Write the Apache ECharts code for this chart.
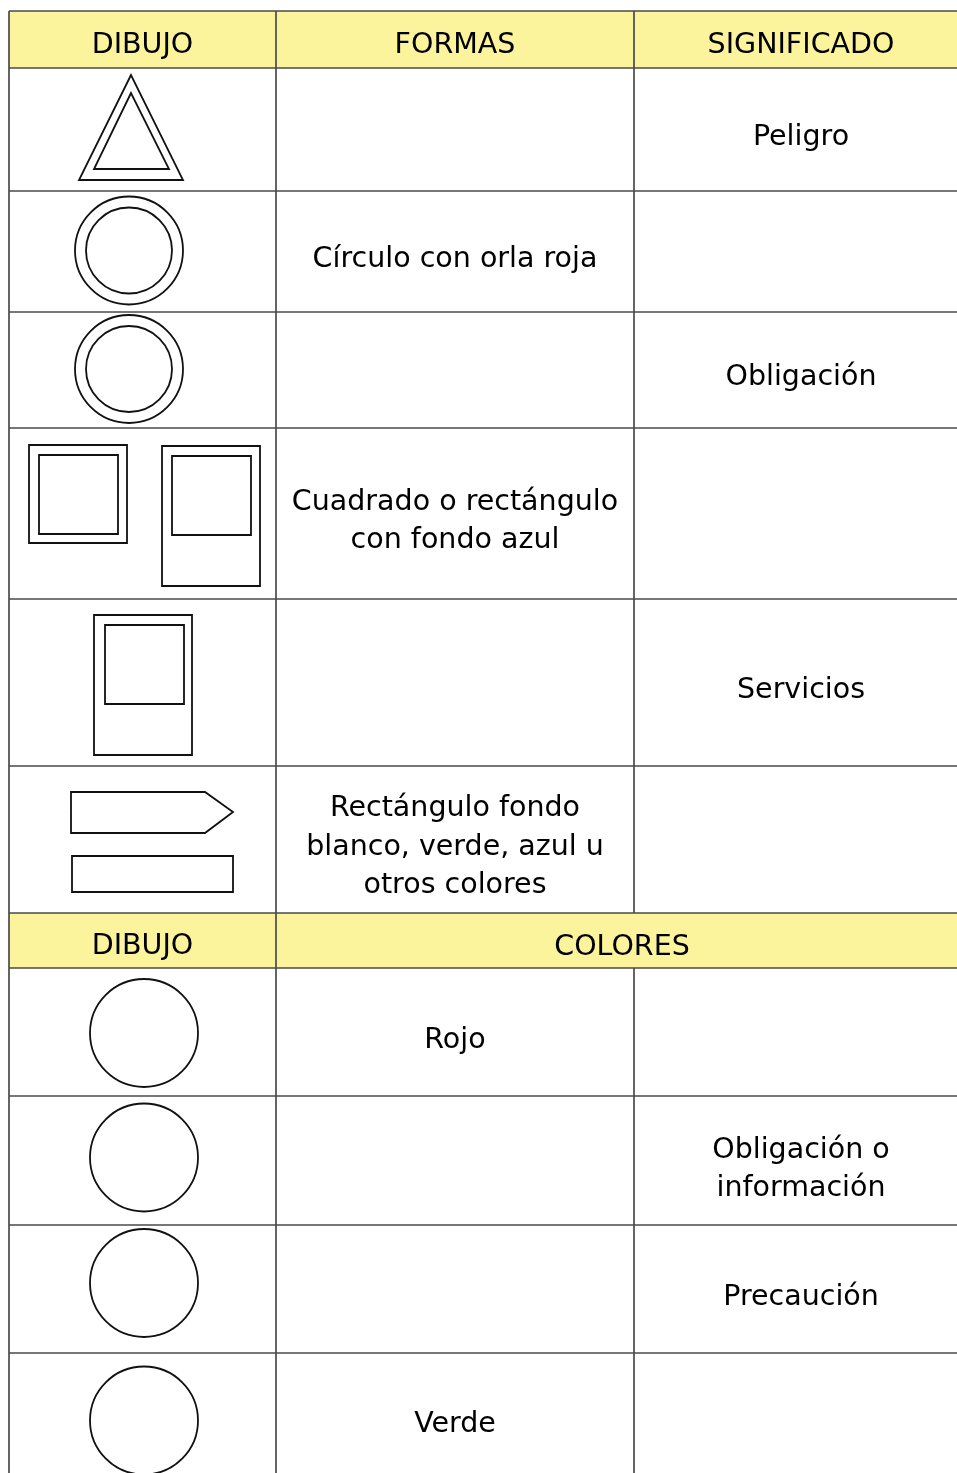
<!DOCTYPE html>
<html><head><meta charset="utf-8">
<script src="https://cdn.jsdelivr.net/npm/echarts@6/dist/echarts.min.js"></script>
<style>html,body{margin:0;padding:0;background:#fff}#c{width:957px;height:1473px}</style>
</head><body><div id="c"></div>
<script>
// ---- data ----
const headersFormas = ['DIBUJO', 'FORMAS', 'SIGNIFICADO'];
const headersColores = ['DIBUJO', 'COLORES'];
const dibujosFormas = ['triangle', 'ringCircle', 'ringCircle', 'squares', 'tallRect', 'arrowRect'];
const formas = ['', 'Círculo con orla roja', '', 'Cuadrado o rectángulo\ncon fondo azul', '', 'Rectángulo fondo\nblanco, verde, azul u\notros colores'];
const significadosFormas = ['Peligro', '', 'Obligación', '', 'Servicios', ''];
const dibujosColores = ['circle', 'circle', 'circle', 'circle'];
const colores = ['Rojo', '', '', 'Verde'];
const significadosColores = ['', 'Obligación o\ninformación', 'Precaución', ''];

// ---- layout ----
const colEdges = [9, 276, 634, 968];
const top1 = 11, head1H = 57;
const rowH1 = [123, 121, 116, 171, 167, 147];
const head2H = 55;
const rowH2 = [128, 129, 128, 125];
const circleShift2 = [1, -3, -6, 5];
const FONT = '"DejaVu Sans", sans-serif';
const FS = 28.5, LH = 38.5;
const BORDER = '#4a4a4a', HEAD = '#fbf49c', INK = '#111';

const chart = echarts.init(document.getElementById('c'), null, {renderer: 'canvas'});
const g = [];
const lines = [];
const texts = [];
const shapes = [];

function text(str, x, y) {
  if (!str) return;
  texts.push({type: 'text', z: 30, style: {text: str, x: x, y: y + 10, align: 'center', verticalAlign: 'middle',
    fontFamily: FONT, fontSize: FS, lineHeight: LH, fill: '#000'}});
}
const sLine = {stroke: INK, lineWidth: 1.8, fill: '#fff'};
function rect(x, y, w, h) { shapes.push({type: 'rect', z: 20, shape: {x, y, width: w, height: h}, style: Object.assign({}, sLine)}); }
function circ(cx, cy, r) { shapes.push({type: 'circle', z: 20, shape: {cx, cy, r}, style: Object.assign({}, sLine)}); }
function poly(pts) { shapes.push({type: 'polygon', z: 20, shape: {points: pts}, style: Object.assign({}, sLine)}); }

function drawShape(kind, x0, y0, h, shift) {
  const cy = y0 + h / 2;
  if (kind === 'triangle') {
    poly([[131, y0 + 7], [79, y0 + 112], [183, y0 + 112]]);
    poly([[131, y0 + 25], [94, y0 + 101], [169, y0 + 101]]);
  } else if (kind === 'ringCircle') {
    circ(129, cy - 1, 54);
    circ(129, cy - 1, 43);
  } else if (kind === 'squares') {
    rect(29, y0 + 17, 98, 98); rect(39, y0 + 27, 79, 79);
    rect(162, y0 + 18, 98, 140); rect(172, y0 + 28, 79, 79);
  } else if (kind === 'tallRect') {
    rect(94, y0 + 16, 98, 140); rect(105, y0 + 26, 79, 79);
  } else if (kind === 'arrowRect') {
    poly([[71, y0 + 26], [205, y0 + 26], [233, y0 + 46], [205, y0 + 67], [71, y0 + 67]]);
    rect(72, y0 + 90, 161, 36);
  } else if (kind === 'circle') {
    circ(144, cy + (shift || 0), 54);
  }
}

// header 1
let y = top1;
g.push({type: 'rect', z: 1, shape: {x: colEdges[0], y: y, width: colEdges[3] - colEdges[0], height: head1H}, style: {fill: HEAD}});
headersFormas.forEach((h, i) => text(h, (colEdges[i] + colEdges[i + 1]) / 2, y + head1H / 2 - 4));
const hLines = [y];
y += head1H; hLines.push(y);
rowH1.forEach((h, i) => {
  drawShape(dibujosFormas[i], colEdges[0], y, h);
  text(formas[i], (colEdges[1] + colEdges[2]) / 2, y + h / 2 - 2);
  text(significadosFormas[i], (colEdges[2] + colEdges[3]) / 2, y + h / 2 - 2);
  y += h; hLines.push(y);
});
const head2Top = y;
g.push({type: 'rect', z: 1, shape: {x: colEdges[0], y: y, width: colEdges[3] - colEdges[0], height: head2H}, style: {fill: HEAD}});
text(headersColores[0], (colEdges[0] + colEdges[1]) / 2, y + head2H / 2 - 4);
text(headersColores[1], (colEdges[1] + colEdges[3]) / 2, y + head2H / 2 - 3);
y += head2H; hLines.push(y);
const body2Top = y;
rowH2.forEach((h, i) => {
  drawShape(dibujosColores[i], colEdges[0], y, h, circleShift2[i]);
  text(colores[i], (colEdges[1] + colEdges[2]) / 2, y + h / 2 - 1);
  text(significadosColores[i], (colEdges[2] + colEdges[3]) / 2, y + h / 2 - 1);
  y += h; if (i < rowH2.length - 1) hLines.push(y);
});
const bottom = y;

const bStyle = {stroke: BORDER, lineWidth: 1.7};
hLines.forEach(yy => lines.push({type: 'line', z: 10, shape: {x1: colEdges[0], y1: yy, x2: colEdges[3], y2: yy}, style: Object.assign({}, bStyle)}));
lines.push({type: 'line', z: 10, shape: {x1: colEdges[0], y1: top1, x2: colEdges[0], y2: bottom}, style: Object.assign({}, bStyle)});
lines.push({type: 'line', z: 10, shape: {x1: colEdges[1], y1: top1, x2: colEdges[1], y2: bottom}, style: Object.assign({}, bStyle)});
lines.push({type: 'line', z: 10, shape: {x1: colEdges[2], y1: top1, x2: colEdges[2], y2: head2Top}, style: Object.assign({}, bStyle)});
lines.push({type: 'line', z: 10, shape: {x1: colEdges[2], y1: body2Top, x2: colEdges[2], y2: bottom}, style: Object.assign({}, bStyle)});

chart.setOption({
  animation: false,
  backgroundColor: '#fff',
  graphic: {elements: g.concat(lines, shapes, texts)}
});
</script>
</body></html>
